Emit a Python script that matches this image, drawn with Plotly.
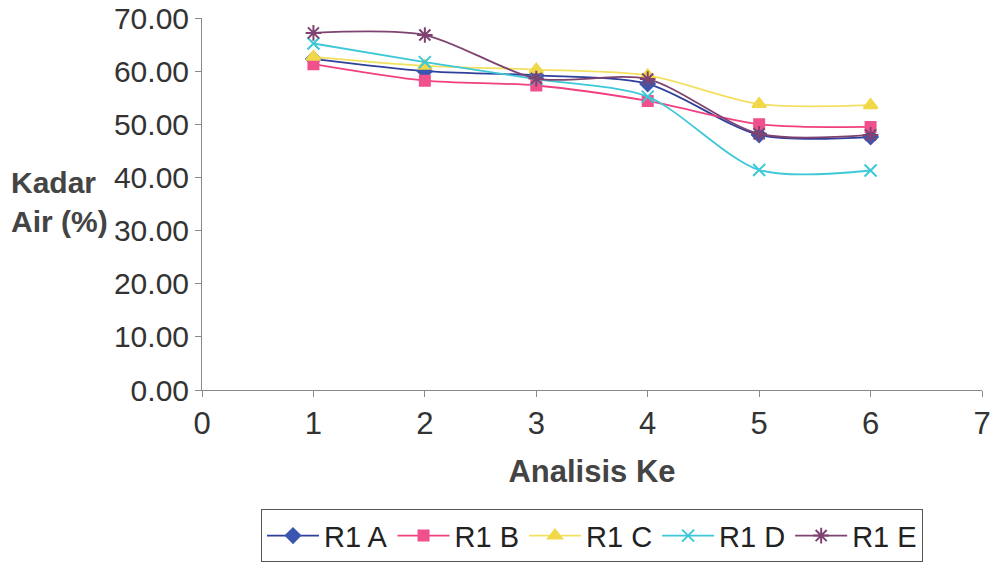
import plotly.graph_objects as go

# Analysis number (x axis)
analisis = [1, 2, 3, 4, 5, 6]

# Water content (%) per sample
r1_a = [62.3, 60.0, 59.2, 57.6, 48.0, 47.6]
r1_b = [61.3, 58.2, 57.3, 54.4, 50.0, 49.5]
r1_c = [62.7, 61.0, 60.3, 59.2, 53.8, 53.6]
r1_d = [65.2, 61.7, 58.5, 55.2, 41.4, 41.3]
r1_e = [67.2, 66.8, 58.6, 58.5, 48.2, 48.0]

series = [
    ("R1 A", r1_a, "#2f3f9a", "#3a56b0", "diamond", 11),
    ("R1 B", r1_b, "#f0407f", "#f0508c", "square", 10),
    ("R1 C", r1_c, "#f3e060", "#f0d848", "triangle-up", 12),
    ("R1 D", r1_d, "#3cc8d8", "#3cc8d8", "x-thin-open", 12),
    ("R1 E", r1_e, "#7e4370", "#7e4370", "asterisk-open", 13),
]

font_family = "Liberation Sans, Arial, sans-serif"
text_color = "#333333"

fig = go.Figure()
for name, vals, line_col, mark_col, symbol, size in series:
    fig.add_trace(go.Scatter(
        x=analisis, y=vals, name=name,
        mode="lines+markers",
        line=dict(color=line_col, width=1.8, shape="spline", smoothing=0.8),
        marker=dict(symbol=symbol, size=size, color=mark_col,
                    line=dict(color=mark_col, width=2)),
    ))

fig.update_layout(
    width=993, height=564,
    margin=dict(l=202, r=11, t=18, b=174, autoexpand=False),
    paper_bgcolor="white", plot_bgcolor="white",
    font=dict(family=font_family, color=text_color, size=29),
    showlegend=True,
    legend=dict(
        orientation="h", x=0.5, xanchor="center", y=-0.463, yanchor="bottom",
        bordercolor="#555555", borderwidth=1,
        font=dict(size=29, color="#222222"),
        tracegroupgap=0, itemwidth=52,
    ),
    xaxis=dict(
        range=[0, 7], tickvals=list(range(0, 8)), showgrid=False, zeroline=False,
        showline=True, linecolor="#888888", linewidth=1,
        ticks="outside", ticklen=6, tickcolor="#888888",
        tickfont=dict(size=31, color=text_color),
        title=dict(text="<b>Analisis Ke</b>", font=dict(size=31, color="#444444"), standoff=20),
    ),
    yaxis=dict(
        range=[0, 70], tickvals=list(range(0, 71, 10)), tickformat=".2f",
        showgrid=False, zeroline=False,
        showline=True, linecolor="#888888", linewidth=1,
        ticks="outside", ticklen=6, tickcolor="#888888",
        tickfont=dict(size=30, color=text_color),
    ),
)

fig.add_annotation(
    text="<b>Kadar<br>Air (%)</b>", xref="paper", yref="paper",
    x=-0.248, y=0.505, xanchor="left", yanchor="middle", align="left",
    showarrow=False, font=dict(size=30, color="#444444"),
)

fig.write_html("out.html")
